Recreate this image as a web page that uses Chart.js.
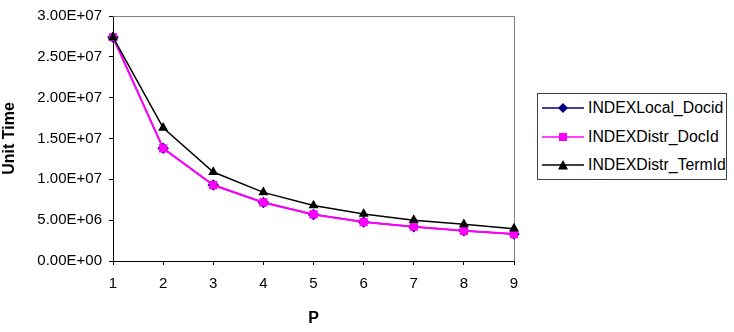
<!DOCTYPE html>
<html>
<head>
<meta charset="utf-8">
<script src="https://cdn.jsdelivr.net/npm/chart.js@4/dist/chart.umd.min.js"></script>
<style>
  html, body { margin: 0; padding: 0; background: #fff; }
  #wrap { position: relative; width: 734px; height: 332px; }
  #legend {
    position: absolute; left: 537px; top: 93px; width: 188px; height: 85px;
    border: 1px solid #404040; overflow: hidden; background: #fff;
    font-family: 'Liberation Sans', Arial, sans-serif; font-size: 15.8px; color: #000;
  }
  .row { position: absolute; left: 4px; height: 18px; white-space: nowrap; display: flex; align-items: center; }
  .row svg { margin-right: 4px; }
</style>
</head>
<body>
<div id="wrap">
  <canvas id="chart" width="734" height="332"></canvas>
  <div id="legend"></div>
</div>
<script>
// --- Data ---
const pLabels = ['1', '2', '3', '4', '5', '6', '7', '8', '9'];
const localDocid = [27.4e6, 13.8e6, 9.3e6, 7.17e6, 5.7e6, 4.77e6, 4.2e6, 3.7e6, 3.3e6];
const distrDocId = [27.4e6, 13.8e6, 9.3e6, 7.17e6, 5.7e6, 4.77e6, 4.2e6, 3.7e6, 3.3e6];
const distrTermId = [27.4e6, 16.3e6, 10.9e6, 8.4e6, 6.8e6, 5.76e6, 5.0e6, 4.5e6, 3.96e6];
const yMax = 3.0e7;
const yStep = 5.0e6;

const FONT = "'Liberation Sans', Arial, sans-serif";

const series = [
  { label: 'INDEXLocal_Docid', data: localDocid, color: '#000080', style: 'rectRot', width: 1.5, order: 3 },
  { label: 'INDEXDistr_DocId', data: distrDocId, color: '#FF00FF', style: 'rect', width: 2, order: 2 },
  { label: 'INDEXDistr_TermId', data: distrTermId, color: '#000000', style: 'triangle', width: 1.5, order: 1 },
];

function sciLabel(v) {
  const parts = v.toExponential(2).split('e');
  const exp = parts[1];
  return parts[0] + 'E' + exp[0] + exp.slice(1).padStart(2, '0');
}

// gray frame on top and right of the plot area
const framePlugin = {
  id: 'frame',
  beforeDatasetsDraw(chart) {
    const { ctx, chartArea: a } = chart;
    ctx.save();
    ctx.strokeStyle = '#808080';
    ctx.lineWidth = 1;
    ctx.beginPath();
    ctx.moveTo(a.left, a.top + 0.5);
    ctx.lineTo(a.right + 0.5, a.top + 0.5);
    ctx.lineTo(a.right + 0.5, a.bottom);
    ctx.stroke();
    ctx.restore();
  }
};

const ctx = document.getElementById('chart').getContext('2d');
new Chart(ctx, {
  type: 'line',
  data: {
    labels: pLabels,
    datasets: series.map(s => ({
      label: s.label,
      data: s.data,
      borderColor: s.color,
      backgroundColor: s.color,
      borderWidth: s.width,
      pointStyle: s.style,
      pointRadius: 5.8,
      pointHoverRadius: 5.8,
      pointBorderWidth: 0,
      tension: 0,
      order: s.order,
    })),
  },
  options: {
    responsive: false,
    animation: false,
    layout: { padding: { top: 11, right: 220, left: 0, bottom: 0 } },
    plugins: {
      legend: { display: false },
      tooltip: { enabled: false },
    },
    scales: {
      x: {
        offset: false,
        grid: { drawOnChartArea: false, drawTicks: true, tickLength: 4, color: '#000' },
        border: { color: '#000', width: 1 },
        ticks: { color: '#000', font: { family: FONT, size: 15 }, padding: 10, maxRotation: 0 },
        title: { display: true, text: 'P', color: '#000', font: { family: FONT, size: 16, weight: 'bold' }, padding: { top: 0, bottom: 4 } },
        afterFit(scale) { scale.height = 71; },
      },
      y: {
        min: 0,
        max: yMax,
        grid: { drawOnChartArea: false, drawTicks: true, tickLength: 4, color: '#000' },
        border: { color: '#000', width: 1 },
        ticks: { stepSize: yStep, color: '#000', font: { family: FONT, size: 15 }, padding: 7, callback: v => sciLabel(v) },
        title: { display: true, text: 'Unit Time', color: '#000', font: { family: FONT, size: 16, weight: 'bold' }, padding: { top: 0, bottom: 0 } },
        afterFit(scale) { scale.width = 113; },
      },
    },
  },
  plugins: [framePlugin],
});

// --- Legend ---
const legendEl = document.getElementById('legend');
const rowTops = [5, 34, 62];
function markerSvg(s) {
  let shape = '';
  if (s.style === 'rectRot') shape = `<polygon points="21,1 26,6 21,11 16,6" fill="${s.color}"/>`;
  else if (s.style === 'rect') shape = `<rect x="17" y="2" width="8" height="8" fill="${s.color}"/>`;
  else shape = `<polygon points="21,1 26,10.5 16,10.5" fill="${s.color}"/>`;
  return `<svg width="42" height="12" viewBox="0 0 42 12"><line x1="0" y1="6" x2="42" y2="6" stroke="${s.color}" stroke-width="1.5"/>${shape}</svg>`;
}
series.forEach((s, i) => {
  const row = document.createElement('div');
  row.className = 'row';
  row.style.top = rowTops[i] + 'px';
  row.innerHTML = markerSvg(s) + `<span>${s.label}</span>`;
  legendEl.appendChild(row);
});
</script>
</body>
</html>
